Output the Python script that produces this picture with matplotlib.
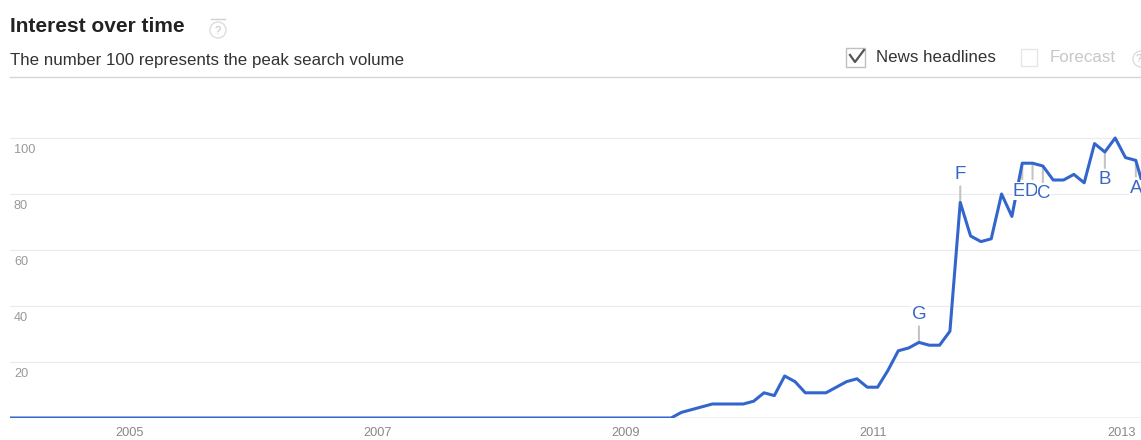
import matplotlib.pyplot as plt
from matplotlib.patches import Rectangle, Circle

# 字体（Helvetica 类似的 Liberation Sans）
plt.rcParams['font.family'] = ['Liberation Sans', 'DejaVu Sans']

# 月度兴趣值，从 2004-01 开始
interest = [
    0, 0, 0, 0, 0, 0, 0, 0, 0, 0, 0, 0,        # 2004
    0, 0, 0, 0, 0, 0, 0, 0, 0, 0, 0, 0,        # 2005
    0, 0, 0, 0, 0, 0, 0, 0, 0, 0, 0, 0,        # 2006
    0, 0, 0, 0, 0, 0, 0, 0, 0, 0, 0, 0,        # 2007
    0, 0, 0, 0, 0, 0, 0, 0, 0, 0, 0, 0,        # 2008
    0, 0, 0, 0, 0, 2, 3, 4, 5, 5, 5, 5,        # 2009
    6, 9, 8, 15, 13, 9, 9, 9, 11, 13, 14, 11,  # 2010
    11, 17, 24, 25, 27, 26, 26, 31, 77, 65, 63, 64,  # 2011
    80, 72, 91, 91, 90, 85, 85, 87, 84, 98, 95, 100, # 2012
    93, 92, 79,                                # 2013
]
start_year = 2004

year_labels = ['2005', '2007', '2009', '2011', '2013']
y_ticks = [20, 40, 60, 80, 100]

# 新闻标注
event_letters = ['G', 'F', 'E', 'D', 'C', 'B', 'A']
event_months = [(2011, 5), (2011, 9), (2012, 3), (2012, 4), (2012, 5), (2012, 11), (2013, 2)]
event_above = [True, True, False, False, False, False, False]
event_dx = [0, 0, -3, -1, 1, 0, 0]   # 标签水平微调（像素）

W, H = 1141, 440
fig = plt.figure(figsize=(W / 100, H / 100), dpi=100)

# ===== 头部（像素坐标） =====
hdr = fig.add_axes([0, 0, 1, 1])
hdr.set_xlim(0, W)
hdr.set_ylim(H, 0)
hdr.axis('off')

hdr.text(10, 27, 'Interest over time', fontsize=15, weight='bold', color='#222222', va='center')
hdr.add_patch(Circle((218, 30), 8, fill=False, ec='#dddddd', lw=1))
hdr.text(218, 30.5, '?', fontsize=8, color='#c0c0c0', ha='center', va='center')
hdr.plot([211, 225], [19, 19], color='#d0d0d0', lw=1)
hdr.text(10, 60, 'The number 100 represents the peak search volume', fontsize=12.2, color='#333333', va='center')
hdr.plot([10, W], [77, 77], color='#d5d5d5', lw=1)

# News headlines 复选框
hdr.add_patch(Rectangle((846, 48), 19, 19, fill=False, ec='#c0c0c0', lw=1))
hdr.plot([850, 855, 864], [55, 62, 50], color='#555555', lw=1.6)
hdr.text(876, 58, 'News headlines', fontsize=12.2, color='#333333', va='center')

# Forecast 复选框（灰色）
hdr.add_patch(Rectangle((1021, 49), 16, 17, fill=False, ec='#e6e6e6', lw=1))
hdr.text(1050, 58, 'Forecast', fontsize=12.2, color='#c8c8c8', va='center')
hdr.add_patch(Circle((1141, 59), 8, fill=False, ec='#dddddd', lw=1, clip_on=False))
hdr.text(1136, 59.5, '?', fontsize=8, color='#c0c0c0', ha='left', va='center')

# ===== 主图 =====
ax = fig.add_axes([10 / W, 22 / H, 1131 / W, 294 / H])
ax.patch.set_visible(False)
for s in ax.spines.values():
    s.set_visible(False)
ax.set_xticks([])
ax.set_yticks([])
ax.set_xlim(0, 109.5)
ax.set_ylim(0, 105)

for v in y_ticks:
    ax.axhline(v, color='#ebebeb', lw=0.8, zorder=0)
    ax.annotate(str(v), xy=(0, v), xycoords=('axes fraction', 'data'),
                xytext=(4, -12), textcoords='offset pixels',
                ha='left', va='center', fontsize=9.2, color='#999999')
ax.axhline(0, color='#bbbbbb', lw=1, zorder=1)

months = list(range(len(interest)))
ax.plot(months, interest, color='#3366cc', lw=2.2, zorder=3, solid_joinstyle='round')

for lab in year_labels:
    idx = (int(lab) - start_year) * 12
    ax.annotate(lab, xy=(idx, 0), xycoords=('data', 'axes fraction'),
                xytext=(-4, -15), textcoords='offset pixels',
                ha='center', va='center', fontsize=9.2, color='#888888')

for letter, (yr, mo), above, dx in zip(event_letters, event_months, event_above, event_dx):
    idx = (yr - start_year) * 12 + mo - 1
    val = interest[idx]
    sign = 1 if above else -1
    ax.annotate('', xy=(idx, val), xytext=(0, sign * 16), textcoords='offset pixels',
                arrowprops=dict(arrowstyle='-', color='#c4c4c4', lw=1.5, shrinkA=0, shrinkB=0),
                zorder=2)
    ax.annotate(letter, xy=(idx, val), xytext=(dx, sign * 28), textcoords='offset pixels',
                ha='center', va='center', fontsize=13.5, color='#3b66c4', zorder=4,
                bbox=dict(boxstyle='square,pad=0.02', fc='white', ec='none'),
                annotation_clip=False)

plt.savefig('out.png', dpi=100)
